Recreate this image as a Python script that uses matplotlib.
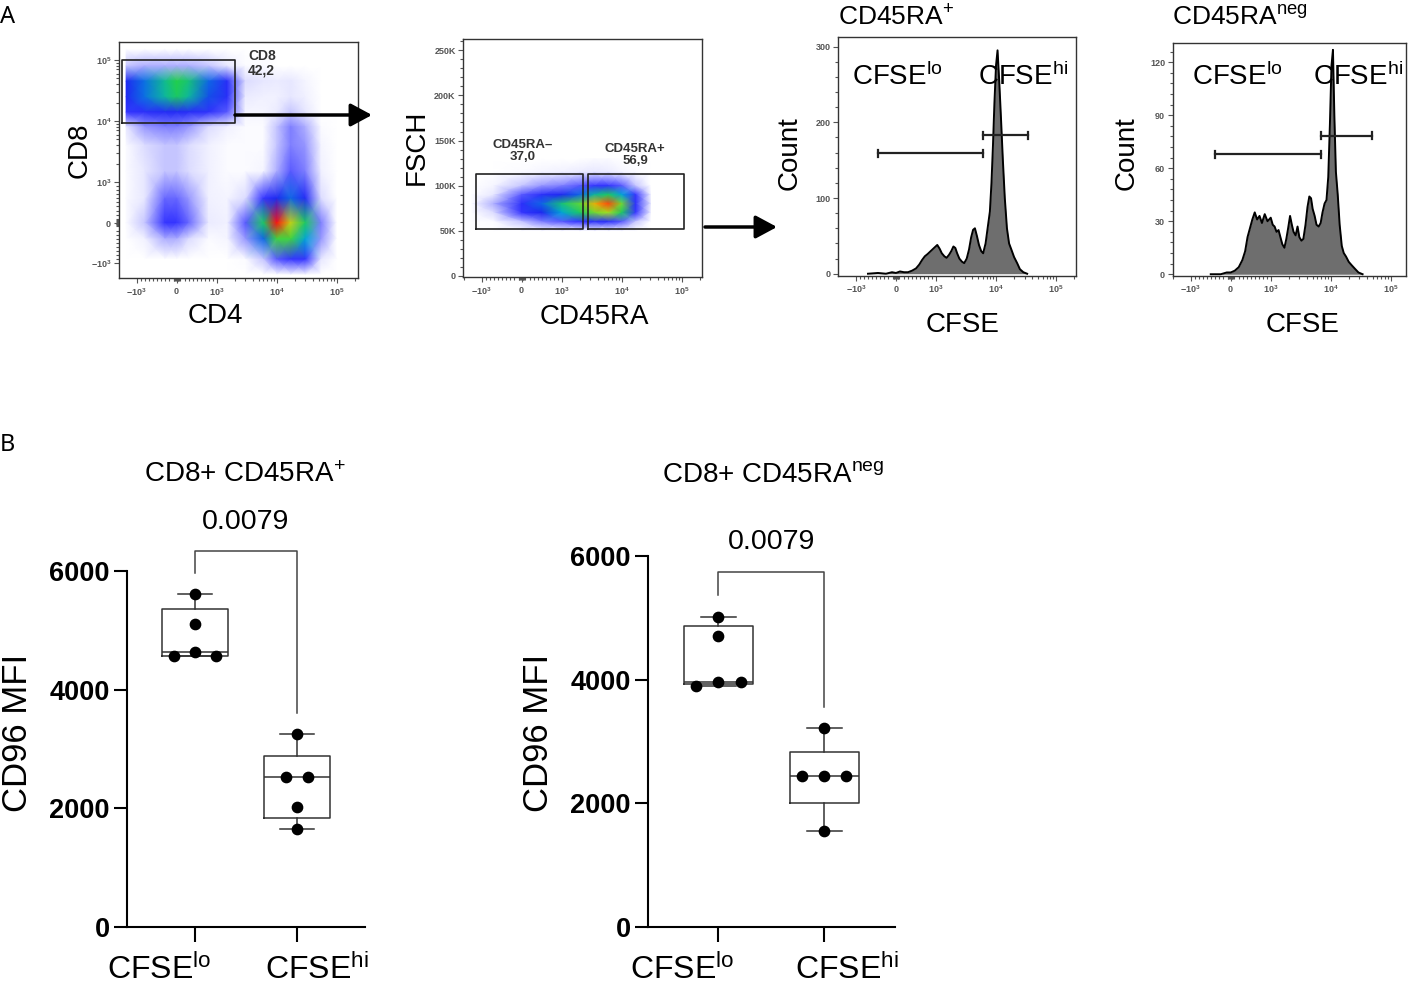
import numpy as np
import matplotlib
matplotlib.use('Agg')
import matplotlib.pyplot as plt
from matplotlib.colors import LinearSegmentedColormap, Normalize
from matplotlib.ticker import FixedLocator, AutoMinorLocator

plt.rcParams['font.family'] = 'Liberation Sans'
plt.rcParams['mathtext.fontset'] = 'custom'
plt.rcParams['mathtext.rm'] = 'Liberation Sans'
plt.rcParams['mathtext.it'] = 'Liberation Sans:italic'
plt.rcParams['mathtext.bf'] = 'Liberation Sans:bold'

W, H = 1413, 986

# ---- A1: CD4 vs CD8 density (read as a coarse grid off the dot plot) ----
cd4_nodes = [-1500, -800, -300, 0, 300, 800, 1500, 3000, 6000, 10000, 17000, 30000, 55000, 100000]
cd8_nodes = [150000, 80000, 45000, 25000, 14000, 8000, 4000, 1500, 600, 0, -400, -900, -1500]
cd4_cd8_density = [
    [0, 0, 0, 0, 0, 0, 0, 0, 0, 0, 0, 0, 0, 0],
    [0.8, 1, 1, 1, 1, 0.8, 0.5, 0.1, 0.1, 0, 0, 0, 0, 0],
    [3.8, 4.6, 5.6, 6.2, 5.8, 4.5, 3.2, 0.6, 0.5, 0.4, 0.5, 0.2, 0, 0],
    [3.8, 4.6, 5.5, 6, 5.5, 4.3, 3.2, 0.4, 0.3, 0.3, 0.5, 0.3, 0, 0],
    [2.5, 3, 3.5, 3.5, 3.3, 2.8, 2, 0.2, 0.2, 0.4, 0.8, 0.5, 0, 0],
    [0.5, 1.2, 1.5, 1.5, 1.2, 0.6, 0.3, 0.1, 0.1, 0.8, 1.5, 1, 0.1, 0],
    [0.1, 0.6, 0.8, 0.8, 0.6, 0.3, 0.1, 0.1, 0.1, 0.8, 1.5, 1.2, 0.2, 0],
    [0.1, 0.5, 0.8, 0.8, 0.6, 0.3, 0.1, 0.1, 0.2, 1, 2, 1.5, 0.3, 0],
    [0.1, 0.5, 1.8, 1.8, 1.2, 0.3, 0.2, 0.6, 2.5, 4, 4.5, 3.5, 0.6, 0],
    [0.1, 0.8, 2.5, 2.5, 1.8, 0.4, 0.3, 2, 6, 10, 8, 6, 1.5, 0],
    [0, 0.3, 1, 1, 0.6, 0.1, 0.2, 1.2, 4.5, 6.5, 6.5, 5, 1.2, 0],
    [0, 0, 0, 0, 0, 0, 0, 0.1, 0.8, 2, 2.5, 2.5, 0.5, 0],
    [0, 0, 0, 0, 0, 0, 0, 0, 0, 0.1, 0.2, 0.2, 0, 0],
]
cd8_gate_x = [-1780, 2020]
cd8_gate_y = [9400, 100000]

# ---- A2: CD45RA vs FSCH density ----
cd45_nodes = [-1500, -700, 0, 500, 1000, 2000, 3500, 6000, 10000, 17000, 30000]
fsc_nodes = [130000, 115000, 100000, 90000, 80000, 70000, 60000, 50000]
cd45_fsc_density = [
    [0, 0, 0, 0, 0, 0, 0.1, 0.1, 0, 0, 0],
    [0, 0, 0.1, 0.2, 0.3, 0.4, 0.5, 0.4, 0.2, 0.1, 0],
    [0, 0.2, 0.8, 1.2, 1.5, 2, 2.5, 2.5, 2, 0.8, 0],
    [0, 0.5, 2, 3, 3.8, 4.5, 5.5, 6, 5, 2.5, 0.3],
    [0, 1, 3, 4.5, 5.8, 6.8, 8.5, 9.5, 7, 3, 0.5],
    [0, 0.6, 2.5, 4, 5, 6, 7, 7.5, 6, 2.5, 0.3],
    [0, 0.1, 0.8, 1.5, 2, 2.5, 3, 3, 2, 0.8, 0],
    [0, 0, 0, 0, 0, 0, 0, 0, 0, 0, 0],
]
ra_neg_gate_x = [-1260, 2240]
ra_pos_gate_x = [2780, 109000]
ra_gate_y = [52000, 112500]

# ---- A3 / A4: CFSE histograms ----
ra_pos_cfse = [-700, -450, -250, -100, 0, 100, 200, 300, 400, 500, 580, 650, 720, 790, 870,
               950, 1050, 1150, 1250, 1380, 1500, 1650, 1800, 1950, 2100, 2250, 2450, 2700, 2950, 3250,
               3550, 3850, 4150, 4450, 4800, 5200, 5650, 6100, 6700, 7300, 7900, 8400, 8900, 9400, 10000,
               10600, 11300, 12100, 13000, 14000, 15200, 16500, 18000, 20000, 22500, 25000, 28500, 33000]
ra_pos_count = [0, 1, 0, 2, 1, 3, 2, 2, 4, 7, 12, 18, 23, 26, 30,
                34, 38, 33, 27, 23, 21, 25, 30, 36, 34, 27, 20, 16, 14, 20,
                32, 48, 58, 60, 50, 38, 30, 27, 40, 62, 82, 120, 170, 225, 275,
                295, 255, 205, 150, 100, 60, 40, 32, 22, 14, 6, 2, 0]
ra_pos_lo_gate = [-440, 6140, 159]
ra_pos_hi_gate = [6140, 34500, 183]

ra_neg_cfse = [-500, -250, -100, 0, 100, 200, 290, 360, 420, 480, 540, 600, 660, 720, 780,
               850, 920, 1000, 1080, 1160, 1250, 1350, 1450, 1560, 1690, 1820, 1950, 2100, 2250, 2400,
               2600, 2800, 3000, 3250, 3500, 3800, 4100, 4400, 4700, 5000, 5400, 5800, 6300, 6800, 7300,
               7900, 8500, 9100, 9700, 10300, 10900, 11500, 12200, 13100, 14100, 15300, 16500, 18000,
               20000, 22500, 25500, 29000, 34000]
ra_neg_count = [0, 0, 1, 1, 2, 4, 8, 13, 21, 26, 31, 35, 31, 33, 29,
                34, 30, 32, 28, 27, 24, 25, 21, 17, 15, 20, 26, 33, 28, 24,
                22, 27, 21, 19, 20, 28, 38, 44, 43, 37, 33, 28, 27, 29, 35,
                40, 42, 55, 85, 118, 127, 90, 58, 45, 28, 16, 12, 10,
                7, 5, 3, 1, 0]
ra_neg_lo_gate = [-400, 7000, 68]
ra_neg_hi_gate = [7000, 48900, 78.4]

# ---- B: CD96 MFI ----
groups = ['CFSE$^{\\mathrm{lo}}$', 'CFSE$^{\\mathrm{hi}}$']
ra_pos_mfi_lo = [5610, 5110, 4630, 4560, 4560]
ra_pos_mfi_hi = [3250, 2520, 2520, 2030, 1645]
ra_neg_mfi_lo = [5020, 4700, 3955, 3955, 3905]
ra_neg_mfi_hi = [3215, 2450, 2450, 2450, 1550]
p_value = '0.0079'

decade_ticks = [-1000, 0, 1000, 10000, 100000]
decade_labels = [r'$\mathbf{-10^{3}}$', r'$\mathbf{0}$', r'$\mathbf{10^{3}}$',
                 r'$\mathbf{10^{4}}$', r'$\mathbf{10^{5}}$']
minor_ticks = []
for k in range(2, 10):
    minor_ticks += [k * 100, -k * 100, k * 1000, -k * 1000, k * 10000, k * 100000]
minor_ticks += [20, 40, 60, 80, -20, -40, -60, -80]

flow_cmap = LinearSegmentedColormap.from_list('flow', [
    (0.0, '#ffffff'), (0.05, '#e6e6ff'), (0.12, '#9494ff'), (0.25, '#3434ff'),
    (0.4, '#1c28f0'), (0.5, '#00a4d8'), (0.62, '#22d04a'), (0.77, '#b4e21c'),
    (0.88, '#ffa000'), (1.0, '#ff1010')])

fig = plt.figure(figsize=(W / 100, H / 100), dpi=100)


def box_px(l, t, r, b):
    return [l / W, 1 - b / H, (r - l) / W, (b - t) / H]


def ftext(x, y, s, **kw):
    fig.text(x / W, 1 - y / H, s, **kw)


def flow_frame(ax):
    for s in ax.spines.values():
        s.set_linewidth(1.0)
        s.set_color('#333333')
    ax.tick_params(which='both', direction='out', color='#555555', labelcolor='#555555',
                   labelsize=6.5, width=0.8, top=False, right=False)
    ax.tick_params(which='major', length=3.5, pad=2)
    ax.tick_params(which='minor', length=2)


def logicle(ax, axis, lim):
    a = ax.xaxis if axis == 'x' else ax.yaxis
    if axis == 'x':
        ax.set_xscale('symlog', linthresh=1000, linscale=0.6)
        ax.set_xlim(lim)
    else:
        ax.set_yscale('symlog', linthresh=1000, linscale=0.6)
        ax.set_ylim(lim)
    a.set_major_locator(FixedLocator(decade_ticks))
    a.set_ticklabels(decade_labels)
    a.set_minor_locator(FixedLocator(minor_ticks))


def gate_box(ax, gx, gy):
    ax.plot([gx[0], gx[1], gx[1], gx[0], gx[0]], [gy[0], gy[0], gy[1], gy[1], gy[0]],
            color='#222222', lw=1.2, zorder=3)


def hist_gate(ax, g, cap):
    ax.plot([g[0], g[1]], [g[2], g[2]], color='#222222', lw=1.6, zorder=4)
    for x in g[:2]:
        ax.plot([x, x], [g[2] - cap, g[2] + cap], color='#222222', lw=1.6, zorder=4)


# A1
ax1 = fig.add_axes(box_px(119.3, 42.3, 358.3, 278.3))
X, Y = np.meshgrid(cd4_nodes, cd8_nodes)
ax1.pcolormesh(X, Y, np.array(cd4_cd8_density), shading='gouraud', cmap=flow_cmap, norm=Normalize(0, 10))
logicle(ax1, 'x', (-1950, 229000))
logicle(ax1, 'y', (-1755, 195000))
gate_box(ax1, cd8_gate_x, cd8_gate_y)
flow_frame(ax1)
ftext(248, 63, 'CD8\n42,2', fontsize=10, fontweight='bold', color='#333333', va='center', linespacing=1.05)
ftext(80, 150, 'CD8', fontsize=20, rotation=90, ha='center', va='center')
ftext(215, 316, 'CD4', fontsize=20, ha='center', va='center')

# A2
ax2 = fig.add_axes(box_px(463.3, 39.3, 701.7, 277.3))
X, Y = np.meshgrid(cd45_nodes, fsc_nodes)
ax2.pcolormesh(X, Y, np.array(cd45_fsc_density), shading='gouraud', cmap=flow_cmap, norm=Normalize(0, 10))
logicle(ax2, 'x', (-2030, 215000))
ax2.set_ylim(-1500, 262144)
ax2.set_yticks([0, 50000, 100000, 150000, 200000, 250000],
               labels=['0', '50K', '100K', '150K', '200K', '250K'], fontweight='bold')
ax2.yaxis.set_minor_locator(AutoMinorLocator(5))
gate_box(ax2, ra_neg_gate_x, ra_gate_y)
gate_box(ax2, ra_pos_gate_x, ra_gate_y)
flow_frame(ax2)
ftext(523, 151, 'CD45RA–\n37,0', fontsize=9.5, fontweight='bold', color='#333333',
      ha='center', va='center', linespacing=1.05)
ftext(635, 155, 'CD45RA+\n56,9', fontsize=9.5, fontweight='bold', color='#333333',
      ha='center', va='center', linespacing=1.05)
ftext(417, 147, 'FSCH', fontsize=20, rotation=90, ha='center', va='center')
ftext(594, 317, 'CD45RA', fontsize=20, ha='center', va='center')

# A3 / A4 histograms
hists = [
    (box_px(838.3, 36.7, 1076, 276), ra_pos_cfse, ra_pos_count, (-1970, 215000), (-3, 313),
     [0, 100, 200, 300], ra_pos_lo_gate, ra_pos_hi_gate, 4.5, 'CD45RA$^{+}$', 838, 790, 963, 852, 978),
    (box_px(1172.7, 43.3, 1406, 276), ra_neg_cfse, ra_neg_count, (-2000, 180000), (-1, 130.7),
     [0, 30, 60, 90, 120], ra_neg_lo_gate, ra_neg_hi_gate, 2.0, 'CD45RA$^{\\mathrm{neg}}$', 1172, 1127, 1303, 1192, 1313),
]
for pos, cx, cy, xl, yl, yt, glo, ghi, cap, title, tx, ylx, xlx, lox, hix in hists:
    ax = fig.add_axes(pos)
    ax.fill_between(cx, cy, 0, color='#6e6e6e', lw=0)
    ax.plot(cx, cy, color='black', lw=1.4)
    logicle(ax, 'x', xl)
    ax.set_ylim(yl)
    ax.set_yticks(yt, labels=[str(v) for v in yt], fontweight='bold')
    ax.yaxis.set_minor_locator(AutoMinorLocator(5))
    hist_gate(ax, glo, cap)
    hist_gate(ax, ghi, cap)
    flow_frame(ax)
    ftext(tx, 18, title, fontsize=19, va='center')
    ftext(lox, 77, 'CFSE$^{\\mathrm{lo}}$', fontsize=20, va='center')
    ftext(hix, 77, 'CFSE$^{\\mathrm{hi}}$', fontsize=20, va='center')
    ftext(ylx, 153, 'Count', fontsize=20, rotation=90, ha='center', va='center')
    ftext(xlx, 325, 'CFSE', fontsize=20, ha='center', va='center')

# arrows between plots
for x0, x1, y in [(235, 372, 115), (705, 777, 227)]:
    fig.add_artist(matplotlib.patches.FancyArrowPatch(
        (x0 / W, 1 - y / H), (x1 / W, 1 - y / H), transform=fig.transFigure,
        arrowstyle='-|>,head_length=0.65,head_width=0.35', mutation_scale=20,
        lw=2.5, color='black', shrinkA=0, shrinkB=0))

ftext(0, 5, 'A', fontsize=17, fontfamily='Noto Sans', va='top')
ftext(0, 433, 'B', fontsize=17, fontfamily='Noto Sans', va='top')


# B box plots
def swarm_offsets(vals, thresh=200, step=0.21):
    order = list(np.argsort(vals)[::-1])
    clusters = []
    for i in order:
        if clusters and abs(vals[clusters[-1][-1]] - vals[i]) < thresh:
            clusters[-1].append(i)
        else:
            clusters.append([i])
    pattern = {1: [0], 2: [-0.5, 0.5], 3: [0, 1, -1], 4: [-0.5, 0.5, -1.5, 1.5], 5: [0, 1, -1, 2, -2]}
    offs = np.zeros(len(vals))
    for c in clusters:
        for i, p in zip(c, pattern[len(c)]):
            offs[i] = p * step
    return offs


def box_stats(vals):
    q1, med, q3 = np.percentile(vals, [25, 50, 75], method='weibull')
    return dict(med=med, q1=q1, q3=q3, whislo=min(vals), whishi=max(vals), fliers=[])


panels = [
    (box_px(127, 571, 365, 927), ra_pos_mfi_lo, ra_pos_mfi_hi, (-0.667, 1.667),
     'CD8+ CD45RA$^{+}$', 245, 18, [107, 265]),
    (box_px(648, 556, 895, 927), ra_neg_mfi_lo, ra_neg_mfi_hi, (-0.667, 1.67),
     'CD8+ CD45RA$^{\\mathrm{neg}}$', 773, 538, [630, 795]),
]
for pos, lo, hi, xl, title, tcx, ylx, glx in panels:
    ax = fig.add_axes(pos)
    ax.bxp([box_stats(lo), box_stats(hi)], positions=[0, 1], widths=0.65, capwidths=0.33,
           showfliers=False,
           boxprops=dict(color='#333333', lw=1.1),
           medianprops=dict(color='#333333', lw=1.1),
           whiskerprops=dict(color='#333333', lw=1.1),
           capprops=dict(color='#333333', lw=1.1))
    for k, vals in enumerate([lo, hi]):
        ax.scatter(k + swarm_offsets(vals), vals, s=55, color='black', zorder=5, clip_on=False)
    top = max(lo) + 720
    ax.plot([0, 0, 1, 1], [max(lo) + 350, top, top, max(hi) + 350], color='#444444', lw=1.1, clip_on=False)
    ax.text(0.5, top + 490, p_value, ha='center', va='center', fontsize=20.5)
    ax.set_xlim(xl)
    ax.set_ylim(0, 6000)
    ax.set_yticks([0, 2000, 4000, 6000], labels=['0', '2000', '4000', '6000'], fontweight='bold')
    ax.set_xticks([0, 1], labels=['', ''])
    ax.spines[['top', 'right']].set_visible(False)
    ax.spines[['left', 'bottom']].set_linewidth(1.5)
    ax.tick_params(axis='y', length=9.5, width=1.5, labelsize=19.5, pad=3)
    ax.tick_params(axis='x', length=11, width=1.5)
    for gx, g in zip(glx, groups):
        ftext(gx, 970, g, fontsize=23, va='center')
    ftext(tcx, 475, title, fontsize=20, ha='center', va='center')
    ftext(ylx, 733, 'CD96 MFI', fontsize=25, rotation=90, ha='center', va='center')

fig.savefig('out.png', dpi=100)
